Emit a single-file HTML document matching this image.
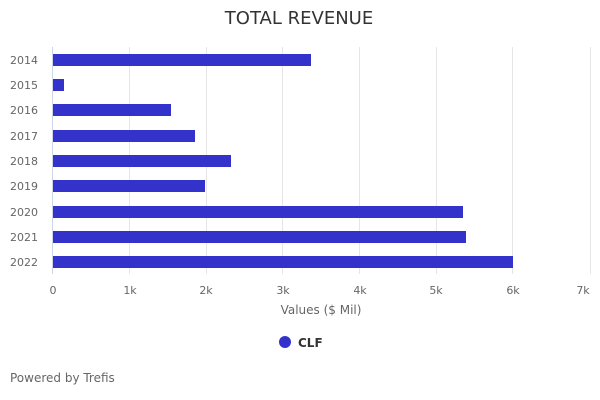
<!DOCTYPE html>
<html><head><meta charset="utf-8"><style>
html,body{margin:0;padding:0;background:#fff;}
svg{display:block;font-family:"DejaVu Sans","Liberation Sans",sans-serif;}
</style></head><body>
<svg width="600" height="400" viewBox="0 0 600 400" xmlns="http://www.w3.org/2000/svg">
<rect width="600" height="400" fill="#fff"/>
<text x="299" y="24" text-anchor="middle" font-size="18" fill="#333">TOTAL REVENUE</text>
<g stroke="#e6e6e6" stroke-width="1">
<line x1="129.5" y1="47" x2="129.5" y2="274"/>
<line x1="206.5" y1="47" x2="206.5" y2="274"/>
<line x1="282.5" y1="47" x2="282.5" y2="274"/>
<line x1="359.5" y1="47" x2="359.5" y2="274"/>
<line x1="436.5" y1="47" x2="436.5" y2="274"/>
<line x1="512.5" y1="47" x2="512.5" y2="274"/>
<line x1="590.5" y1="47" x2="590.5" y2="274"/>
</g>
<g fill="#3333cc">
<rect x="53" y="54" width="258" height="12"/>
<rect x="53" y="79" width="11" height="12"/>
<rect x="53" y="104" width="118" height="12"/>
<rect x="53" y="130" width="142" height="12"/>
<rect x="53" y="155" width="178" height="12"/>
<rect x="53" y="180" width="152" height="12"/>
<rect x="53" y="206" width="410" height="12"/>
<rect x="53" y="231" width="413" height="12"/>
<rect x="53" y="256" width="460" height="12"/>
</g>
<line x1="52.5" y1="47" x2="52.5" y2="274" stroke="#ccd6eb" stroke-width="1"/>
<g font-size="11" fill="#666" text-anchor="end">
<text x="38" y="64">2014</text>
<text x="38" y="89">2015</text>
<text x="38" y="114">2016</text>
<text x="38" y="140">2017</text>
<text x="38" y="165">2018</text>
<text x="38" y="190">2019</text>
<text x="38" y="216">2020</text>
<text x="38" y="241">2021</text>
<text x="38" y="266">2022</text>
</g>
<g font-size="11" fill="#666" text-anchor="middle">
<text x="53" y="294">0</text>
<text x="130" y="294">1k</text>
<text x="206" y="294">2k</text>
<text x="283" y="294">3k</text>
<text x="360" y="294">4k</text>
<text x="436" y="294">5k</text>
<text x="513" y="294">6k</text>
<text x="583" y="294">7k</text>
</g>
<text x="321" y="314" text-anchor="middle" font-size="12" fill="#666">Values ($ Mil)</text>
<circle cx="285" cy="342" r="6" fill="#3333cc"/>
<text x="298" y="347" font-size="12" font-weight="bold" fill="#333">CLF</text>
<text x="10" y="382" font-size="12" fill="#666">Powered by Trefis</text>
</svg>
</body></html>
